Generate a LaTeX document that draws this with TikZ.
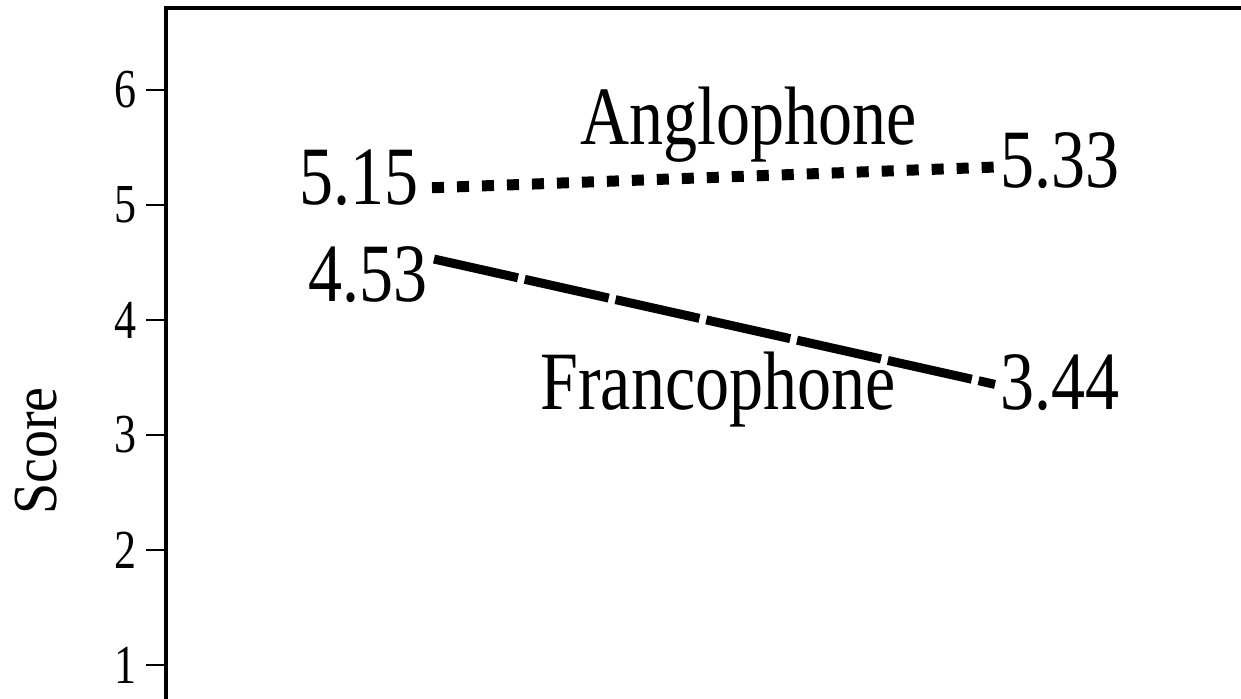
\documentclass[tikz,border=0pt]{standalone}
\usepackage{fontspec}
\setmainfont{Liberation Serif}
\usetikzlibrary{positioning}

\begin{document}
\begin{tikzpicture}[x=0.5pt,y=-0.5pt,
        axis/.style={line width=2pt},
        tick/.style={line width=1pt},
        ticklabel/.style={font=\fontsize{22}{26}\selectfont,inner sep=0pt,anchor=east,yscale=1.25},
        value/.style={font=\fontsize{34}{40}\selectfont,inner sep=0pt,yscale=1.22},
        anglo/.style={line width=5.5pt,dash pattern=on 6pt off 6.5pt},
        franco/.style={line width=4.5pt,dash pattern=on 43pt off 3.5pt}]
        \useasboundingbox (0,0) rectangle (1241,699);
        \coordinate (top) at (1241,8);
        \coordinate (corner) at (166,8);
        \coordinate (bottom) at (166,699);
        \draw[axis] (top) -- (corner) -- (bottom);
        \foreach \v in {1,...,6} {
            \coordinate (y\v) at (166,{780-115*\v});
            \draw[tick] (y\v) -- ++(-20,0) coordinate (e\v);
            \node[ticklabel] (t\v) at ([xshift=-4.5pt]e\v) {\v};
        }
        \node[font=\fontsize{28}{32}\selectfont,rotate=90,yscale=1.12] (score) at (36,451) {Score};
        \coordinate (a1) at (432,{780-115*5.15});
        \coordinate (a2) at (995,{780-115*5.33});
        \coordinate (f1) at (434,{780-115*4.53});
        \coordinate (f2) at (995,{780-115*3.44});
        \draw[anglo] (a1) -- (a2);
        \draw[franco] (f1) -- (f2);
        \node[value,anchor=base east] (va1) at (419,205) {5.15};
        \node[value,anchor=base west] (va2) at (1000,188) {5.33};
        \node[value,anchor=base east] (vf1) at (428,302) {4.53};
        \node[value,anchor=base west] (vf2) at (1000,410) {3.44};
        \node[value,anchor=base west] (anglo) at (580,145) {Anglophone};
        \node[value,anchor=base west] (franco) at (540,410) {Francophone};
\end{tikzpicture}
\end{document}
